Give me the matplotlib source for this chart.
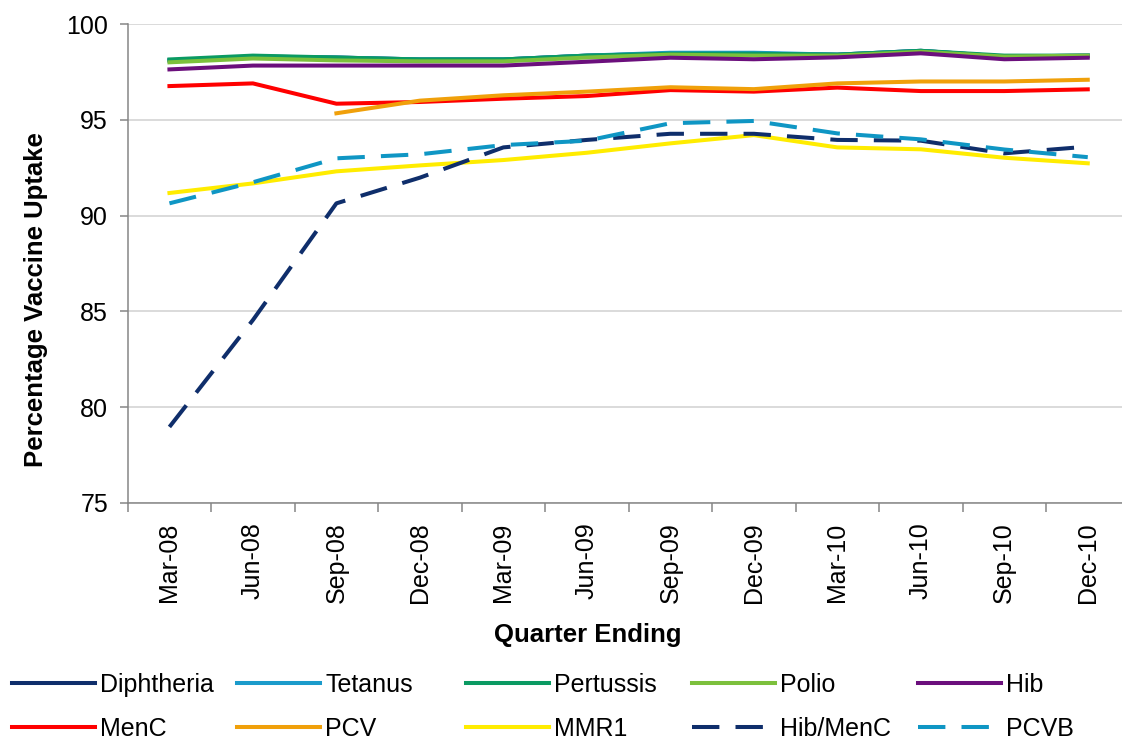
import matplotlib
matplotlib.use('Agg')
import matplotlib.pyplot as plt
import numpy as np
from matplotlib.ticker import FixedLocator

plt.rcParams['font.family'] = ['Liberation Sans', 'DejaVu Sans']
plt.rcParams['font.size'] = 18

W, H = 1122, 744

quarters = ['Mar-08', 'Jun-08', 'Sep-08', 'Dec-08', 'Mar-09', 'Jun-09',
            'Sep-09', 'Dec-09', 'Mar-10', 'Jun-10', 'Sep-10', 'Dec-10']

diphtheria = [98.10, 98.30, 98.25, 98.15, 98.15, 98.35, 98.45, 98.45, 98.40, 98.60, 98.30, 98.35]
tetanus    = [98.10, 98.30, 98.25, 98.15, 98.15, 98.35, 98.50, 98.50, 98.40, 98.60, 98.30, 98.35]
pertussis  = [98.15, 98.35, 98.25, 98.15, 98.15, 98.35, 98.45, 98.45, 98.40, 98.60, 98.35, 98.35]
polio      = [98.00, 98.20, 98.10, 98.05, 98.05, 98.25, 98.40, 98.35, 98.35, 98.55, 98.30, 98.35]
hib        = [97.63, 97.83, 97.83, 97.83, 97.83, 98.03, 98.24, 98.16, 98.26, 98.47, 98.16, 98.24]
menc       = [96.76, 96.90, 95.84, 95.93, 96.10, 96.24, 96.55, 96.47, 96.68, 96.50, 96.50, 96.59]
pcv        = [np.nan, np.nan, 95.34, 96.00, 96.28, 96.47, 96.70, 96.60, 96.90, 97.00, 97.00, 97.09]
mmr1       = [91.18, 91.68, 92.31, 92.62, 92.90, 93.28, 93.77, 94.20, 93.56, 93.46, 93.02, 92.73]
hib_menc   = [78.97, 84.55, 90.64, 91.98, 93.56, 93.95, 94.27, 94.27, 93.95, 93.91, 93.25, 93.60]
pcvb       = [90.64, 91.74, 92.99, 93.20, 93.68, 93.91, 94.82, 94.94, 94.29, 93.98, 93.45, 93.05]

series = [
    ('Diphtheria', diphtheria, '#0f2e6b', False),
    ('Tetanus',    tetanus,    '#1b9bcb', False),
    ('Pertussis',  pertussis,  '#0a9a62', False),
    ('Polio',      polio,      '#7cc03c', False),
    ('Hib',        hib,        '#6b0f7c', False),
    ('MenC',       menc,       '#ff0000', False),
    ('PCV',        pcv,        '#f0a00a', False),
    ('MMR1',       mmr1,       '#ffec00', False),
    ('Hib/MenC',   hib_menc,   '#0f2e6b', True),
    ('PCVB',       pcvb,       '#0f96c4', True),
]

fig = plt.figure(figsize=(W / 100, H / 100), dpi=100)
ax = fig.add_axes([127.7 / W, 1 - 503 / H, 1001.8 / W, 479 / H])

x = np.arange(len(quarters))
lines = []
for name, vals, color, dashed in series:
    ls = (0, (6.8, 4)) if dashed else '-'
    ln, = ax.plot(x, vals, color=color, lw=2.9, ls=ls, label=name,
                  dash_capstyle='butt', zorder=3)
    lines.append(ln)

ax.set_xlim(-0.5, 11.5)
ax.set_ylim(75, 100)
ax.set_yticks(range(75, 101, 5))
ax.set_xticks(x)
ax.set_xticklabels(quarters, rotation=90)
ax.xaxis.set_minor_locator(FixedLocator(np.arange(-0.5, 12, 1)))
ax.tick_params(axis='x', which='major', length=0, pad=14)
ax.tick_params(axis='x', which='minor', length=6.5, width=1.1, color='#868686')
ax.tick_params(axis='y', length=5.5, width=1.1, color='#868686', pad=8.6)
ax.grid(axis='y', color='#d4d4d4', lw=1.2)
ax.set_axisbelow(True)
for s in ['top', 'right']:
    ax.spines[s].set_visible(False)
for s in ['left', 'bottom']:
    ax.spines[s].set_color('#868686')
    ax.spines[s].set_linewidth(1.1)

fig.text(588 / W, 1 - 635 / H, 'Quarter Ending', ha='center', va='center',
         fontweight='bold', fontsize=18.5)
fig.text(36 / W, 1 - 300 / H, 'Percentage Vaccine Uptake', ha='center',
         va='center', rotation=90, fontweight='bold', fontsize=18.5)

# legend: five columns of two entries each
col_x = [12, 237, 466, 692, 918]
for i, cx in enumerate(col_x):
    hs = [lines[i], lines[i + 5]]
    fig.legend(hs, [h.get_label() for h in hs], loc='center left',
               bbox_to_anchor=(cx / W, 1 - 707 / H), frameon=False,
               borderpad=0, borderaxespad=0, handlelength=3.32,
               handletextpad=0.2, labelspacing=0.8, fontsize=18)

fig.savefig('out.png', dpi=100)
